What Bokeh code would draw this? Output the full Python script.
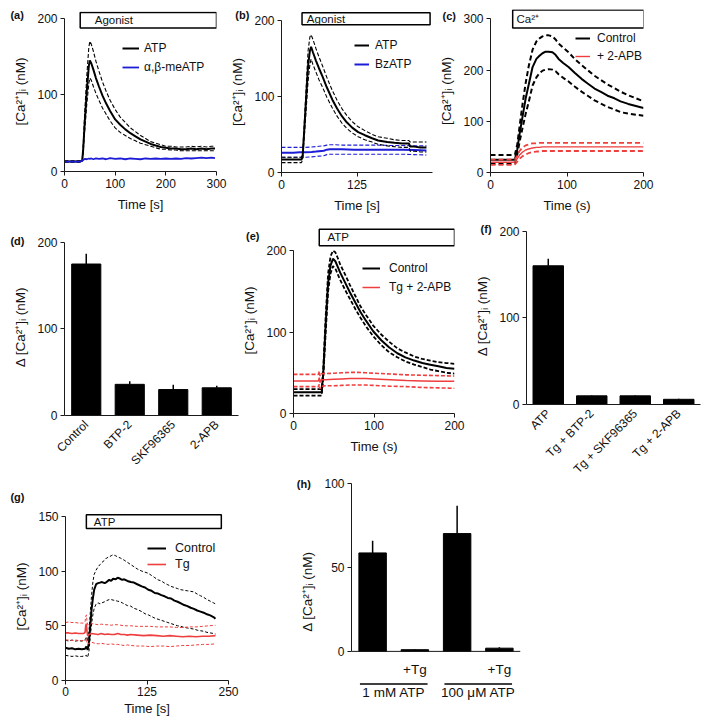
import math
from bokeh.plotting import figure
from bokeh.models import (Range1d, FactorRange, FixedTicker, Label, Legend, LegendItem,
                          BoxAnnotation, Span, Column)
from bokeh.embed import file_html
from bokeh.resources import INLINE
from bokeh.core.properties import value

FONT = "Liberation Sans"
AX = "#1a1a1a"
BLACK = "#000000"
BLUE = "#1d1dd8"
RED = "#ef3e3e"

# ---------------- DATA ----------------
# (a) ATP vs alpha,beta-meATP
t_a = [0, 10, 20, 30, 35, 37, 40, 44, 48, 50, 53, 57, 62, 68, 75, 82, 90, 100, 110, 120,
       130, 140, 150, 160, 170, 180, 190, 200, 210, 220, 230, 240, 250, 260, 270, 280, 290, 297]
atp_a = [13, 13, 13, 13, 14, 30, 65, 105, 138, 145, 141, 133, 122, 111, 99, 89, 79, 68, 61, 55,
         50, 46, 42, 39, 36, 34, 32, 31, 30, 30, 29, 29, 30, 29, 30, 29, 30, 30]
atp_a_up = [14, 14, 14, 14, 15, 35, 78, 125, 162, 170, 166, 157, 144, 131, 117, 105, 93, 81, 71, 64,
            57, 52, 47, 43, 39, 37, 35, 33, 33, 32, 32, 32, 33, 32, 33, 32, 33, 33]
atp_a_lo = [12, 12, 12, 12, 13, 26, 54, 88, 115, 122, 119, 111, 102, 93, 83, 75, 66, 57, 51, 47,
            43, 40, 37, 35, 33, 31, 29, 29, 28, 28, 27, 27, 27, 27, 27, 27, 27, 27]
abme_a = [13, 13, 13, 13, 14, 15, 16.5, 16, 17, 16.5, 17, 16, 17, 16.5, 17, 16, 17.5, 16.5, 17, 16,
          17, 16.5, 16, 17, 16.5, 17, 16.5, 17, 16.5, 17, 16.5, 17.5, 17, 17.5, 18, 17.5, 18, 17.5]
xt_a = [0, 100, 200, 300]
yt_a = [0, 100, 200]

# (b) ATP vs BzATP
t_b = [0, 10, 20, 30, 33, 35, 38, 41, 44, 47, 49, 52, 57, 62, 68, 75, 84, 92, 100, 108,
       117, 127, 138, 150, 160, 175, 187, 200, 211, 213, 220, 230, 240]
atp_b = [17, 17, 17, 17, 17, 21, 60, 100, 140, 160, 165, 158, 147, 137, 126, 112, 96, 84, 74, 66,
         59, 53, 49, 45, 42, 40, 39, 38, 38, 34, 34, 33, 33]
atp_b_up = [20, 20, 20, 20, 20, 25, 70, 115, 160, 178, 181, 175, 163, 152, 140, 125, 108, 95, 84, 75,
            67, 60, 55, 50, 47, 45, 43, 42, 42, 40, 40, 40, 40]
atp_b_lo = [13, 13, 13, 13, 13, 17, 50, 85, 120, 142, 149, 142, 132, 122, 112, 99, 85, 74, 65, 58,
            52, 47, 43, 40, 37, 35, 34, 33, 33, 28, 28, 27, 27]
t_bz = [0, 10, 20, 30, 40, 50, 57, 62, 70, 75, 80, 90, 100, 120, 140, 160, 180, 200, 220, 240]
bz_b = [26, 26, 26, 26.5, 26.5, 27, 27.5, 28, 28.5, 30, 30.5, 30.5, 30.5, 30, 30, 30, 30, 30, 29.5, 29]
bz_b_up = [33, 33, 33, 33, 33, 33.5, 34, 34.5, 35, 36, 36.5, 36.5, 36, 36, 36, 36, 35.5, 35.5, 35, 35]
bz_b_lo = [20, 20, 20, 20, 20, 20.5, 21, 21.5, 22, 23.5, 24, 24, 24, 24, 24, 24, 24, 24, 23.5, 23]
xt_b = [0, 125, 250]
yt_b = [0, 100, 200]

# (c) Ca2+ re-addition, control vs 2-APB
t_c = [0, 10, 20, 30, 32, 35, 38, 42, 46, 50, 55, 60, 64, 68, 72, 76, 81, 85, 89, 95,
       102, 110, 119, 127, 136, 145, 153, 162, 170, 180, 190, 200]
ctrl_c = [25, 25, 25, 25, 26, 45, 75, 110, 145, 172, 206, 222, 228, 233, 236, 236, 235, 230, 222, 214,
          206, 195, 183, 174, 164, 157, 150, 145, 139, 134, 130, 126]
ctrl_c_up = [34, 34, 34, 34, 35, 55, 90, 135, 175, 208, 240, 256, 262, 266, 268, 268, 266, 260, 252, 244,
             235, 222, 210, 200, 189, 180, 172, 165, 158, 151, 145, 139]
ctrl_c_lo = [17, 17, 17, 17, 18, 35, 60, 88, 115, 138, 170, 186, 194, 199, 201, 202, 201, 198, 192, 185,
             178, 168, 158, 150, 141, 134, 128, 123, 118, 115, 113, 111]
apb_c = [20, 20, 20, 20, 21, 27, 34, 40, 44, 46, 48, 49, 49, 50, 50, 50, 50, 50, 50, 50,
         50, 50, 50, 50, 50, 50, 50, 50, 50, 50, 50, 50]
apb_c_up = [25, 25, 25, 25, 26, 33, 42, 49, 53, 55, 57, 57, 58, 58, 58, 58, 58, 58, 58, 58,
            58, 58, 58, 58, 58, 58, 58, 58, 58, 58, 58, 58]
apb_c_lo = [15, 15, 15, 15, 16, 21, 27, 32, 35, 38, 40, 41, 41, 42, 42, 42, 42, 42, 42, 42,
            42, 42, 42, 42, 42, 42, 42, 42, 42, 42, 42, 42]
xt_c = [0, 100, 200]
yt_c = [0, 100, 200, 300]

# (d) bars
cats_d = ["Control", "BTP-2", "SKF96365", "2-APB"]
vals_d = [175, 36, 30, 32]
err_d = [12, 3.5, 5.5, 2.5]
yt_d = [0, 100, 200]

# (e) ATP, control vs Tg + 2-APB
t_e = [0, 10, 20, 30, 35, 37, 40, 43, 46, 49, 52, 55, 58, 64, 70, 77, 83, 90, 99, 109,
       119, 129, 139, 150, 160, 170, 180, 190, 200]
ctrl_e = [26, 26, 26, 26, 26, 50, 110, 160, 182, 190, 187, 180, 173, 161, 149, 136, 125, 114, 101, 90,
          81, 74, 69, 65, 62, 60, 58, 56, 55]
ctrl_e_up = [30, 30, 30, 30, 30, 55, 120, 172, 193, 200, 198, 191, 183, 171, 158, 144, 132, 121, 108, 97,
             88, 80, 75, 70, 67, 65, 63, 62, 61]
ctrl_e_lo = [22, 22, 22, 22, 22, 45, 100, 150, 172, 181, 178, 171, 164, 152, 141, 128, 118, 107, 95, 84,
             75, 69, 64, 60, 57, 54, 52, 50, 49]
t_e2 = [0, 10, 20, 30, 31, 32, 33, 34, 35, 40, 50, 60, 70, 80, 90, 100, 120, 140, 160, 180, 200]
tg_e = [40, 40, 40, 40, 40, 44, 38, 41, 41.5, 41.5, 42, 42.5, 43, 43, 43, 42.5, 41.5, 40.5, 40, 39.5, 39.5]
tg_e_up = [48, 48, 48, 48, 48, 52, 46, 49, 49, 49, 49.5, 50, 50.5, 50.5, 50, 49.5, 48.5, 47.5, 47, 46.5, 46]
tg_e_lo = [33, 33, 33, 33, 33, 36, 30, 33, 33.5, 34, 34, 34.5, 35, 35, 35, 34.5, 33.5, 33, 32, 31.5, 31]
xt_e = [0, 100, 200]
yt_e = [0, 100, 200]

# (f) bars
cats_f = ["ATP", "Tg + BTP-2", "Tg + SKF96365", "Tg + 2-APB"]
vals_f = [160, 10, 10, 6]
err_f = [8, 0.8, 0.8, 0.5]
yt_f = [0, 100, 200]

# (g) ATP, control vs Tg
t_g = [0, 5, 10, 15, 20, 25, 30, 32, 34, 36, 38, 40, 42, 44, 47, 50, 53, 56, 60, 63,
       67, 70, 73, 77, 80, 84, 87, 90, 95, 100, 105, 110, 117, 122, 127, 132, 137, 142, 147, 152,
       157, 162, 167, 172, 177, 182, 187, 192, 197, 202, 207, 212, 217, 222, 227, 230]
ctrl_g = [30, 29, 29.5, 28.5, 29, 28.5, 29, 31, 28, 35, 50, 65, 75, 83, 88, 89, 89.5, 90, 89, 90,
          92, 91, 93, 92.5, 94, 93, 92, 92.5, 91, 90, 89.5, 88, 86, 85, 83, 82, 80, 79.5, 78, 77,
          75.5, 75, 73, 72, 70.5, 69, 68, 66.5, 65.5, 64, 63, 62, 60.5, 59.5, 58, 56.5]
ctrl_g_up = [37, 36, 37, 36, 36.5, 36, 37, 40, 36, 45, 62, 78, 90, 97, 101, 104, 106, 108, 110, 112,
             113, 114, 115, 114, 113, 112, 111, 110, 108, 106, 104, 102, 100, 99, 98, 96, 94, 92, 91, 89,
             87.5, 86, 85, 84, 83, 82.5, 82, 81.5, 81, 79, 77.5, 76, 74, 72.5, 71, 70]
ctrl_g_lo = [23, 22.5, 22, 22.5, 22, 22, 22.5, 23, 21, 27, 40, 52, 60, 66, 70, 71, 70, 71, 72, 73,
             74, 74, 73.5, 73, 72.5, 72, 71, 70, 68.5, 68, 66, 65, 63, 61, 60, 58.5, 57, 56, 55, 54,
             53, 52, 51, 50, 49.5, 48.5, 48, 47.5, 47, 46, 45.5, 45, 44, 43.5, 43, 42.5]
t_g2 = [0, 5, 10, 15, 20, 25, 28, 30, 31, 32, 33, 34, 36, 40, 45, 50, 55, 60, 65, 70,
        75, 80, 85, 90, 95, 100, 110, 120, 130, 140, 150, 160, 170, 180, 190, 200, 210, 220, 230]
tg_g = [43.5, 43.5, 43, 43.5, 43, 43, 43, 44, 50, 52, 45, 41, 42, 43, 42.5, 42, 43, 42, 42.5, 42,
        42, 43, 42, 42, 41.5, 42, 41.5, 41, 41.5, 41, 40.5, 41, 40.5, 40, 40.5, 40, 40.5, 40.5, 41]
tg_g_up = [53, 53.5, 53, 53, 52.5, 52.5, 52.5, 54, 58, 60, 54, 51, 51, 52, 51.5, 51, 51.5, 51, 51, 50.5,
           51, 51, 50.5, 50, 50, 50, 49.5, 49.5, 49.5, 49, 49, 49, 48.5, 48.5, 49, 49, 49.5, 50, 50.5]
tg_g_lo = [37, 37, 36.5, 37, 36.5, 36.5, 36.5, 36, 38, 39, 34, 33, 34, 35, 34, 33.5, 34, 33.5, 33, 33.5,
           33, 33, 32.5, 32, 32.5, 32, 31.5, 31.5, 31, 31.5, 31.5, 31, 31.5, 32, 32, 32.5, 33, 33, 33.5]
xt_g = [0, 125, 250]
yt_g = [0, 50, 100, 150]

# (h) bars
cats_h = ["1 mM ATP", "1 mM ATP +Tg", "100 μM ATP", "100 μM ATP +Tg"]
sub_h = ["", "+Tg", "", "+Tg"]
groups_h = ["1 mM ATP", "100 μM ATP"]
vals_h = [58.5, 1.0, 70, 1.9]
err_h = [7.2, 0.3, 16.5, 0.6]
yt_h = [0, 50, 100]

# application windows (s)
win_a = (31, 300)
win_b = (34, 246)
win_c = (29, 200.5)
win_e = (32, 200)
win_g = (32, 239)

panel_letters = ["(a)", "(b)", "(c)", "(d)", "(e)", "(f)", "(g)", "(h)"]

CA_LABEL = "[Ca²⁺]ᵢ (nM)"
DCA_LABEL = "Δ [Ca²⁺]ᵢ (nM)"

# ---------------- LAYOUT HELPERS ----------------
W, H = 693, 710
S = 0.977
LEG_DX, LEG_DY = -1, -6   # calibration of legend placement


def px(v):
    return int(round(v * S))


def lin(d0, r0, d1, r1):
    k = (d1 - d0) / (r1 - r0)
    return lambda r: d0 + (r - r0) * k


ABS = {"position": "absolute", "left": "8px", "top": "8px"}


class Panel:
    def __init__(self, frame, ymap, xmap=None, factors=None, fs_tick=12, fs_label=13, fs_ylabel=13.5):
        fx0, fy0, fx1, fy1 = frame
        self.frame = frame
        if factors is not None:
            n = len(factors)
            self.fx = lin(0, fx0, n, fx1)
            xr = FactorRange(factors=factors, range_padding=0)
        else:
            self.fx = lin(*xmap)
            xr = Range1d(self.fx(fx0), self.fx(fx1))
        self.fy = lin(*ymap)
        yr = Range1d(self.fy(fy1), self.fy(fy0))
        p = figure(width=W, height=H, x_range=xr, y_range=yr,
                   min_border_left=px(fx0), min_border_right=W - px(fx1),
                   min_border_top=px(fy0), min_border_bottom=H - px(fy1),
                   output_backend="svg", toolbar_location=None, frame_align=False,
                   styles=ABS)
        p.border_fill_color = None
        p.background_fill_color = None
        p.outline_line_color = None
        p.grid.visible = False
        for ax in p.axis:
            ax.axis_line_color = AX
            ax.axis_line_width = 1
            ax.major_tick_line_color = AX
            ax.major_tick_out = 4
            ax.major_tick_in = 0
            ax.minor_tick_line_color = None
            ax.major_label_text_font = FONT
            ax.major_label_text_font_size = f"{fs_tick}px"
            ax.major_label_text_color = "#111111"
            ax.axis_label_text_font = FONT
            ax.axis_label_text_font_size = f"{fs_label}px"
            ax.axis_label_text_font_style = "normal"
            ax.axis_label_text_color = "#111111"
            ax.major_label_standoff = 3
            ax.axis_label_standoff = 6
        p.yaxis.axis_label_text_font_size = f"{fs_ylabel}px"
        self.p = p

    def label(self, text, rx, ry, size=11, bold=False, align="left"):
        self.p.add_layout(Label(x=self.fx(rx), y=self.fy(ry), text=text, text_font=FONT,
                                text_font_size=f"{size}px",
                                text_font_style="bold" if bold else "normal",
                                text_baseline="middle", text_align=align, text_color="#111111"))

    def box(self, win, ry0, ry1, text, rtx, size=11):
        self.p.add_layout(BoxAnnotation(left=win[0], right=win[1], top=self.fy(ry0), bottom=self.fy(ry1),
                                        fill_color="white", fill_alpha=1, line_color=BLACK,
                                        line_width=1.5, line_alpha=1))
        self.label(text, rtx, (ry0 + ry1) / 2, size=size)

    def legend(self, items, rx, ry_first, pitch, glyph_w, standoff, size=12):
        gh = 12
        sp = px(pitch) - gh
        n = len(items)
        lh = n * gh + (n - 1) * sp
        fx0, fy0, fx1, fy1 = self.frame
        x = px(rx) - px(fx0) + LEG_DX
        top_from_top = px(ry_first) - gh / 2 - px(fy0)
        fh = px(fy1) - px(fy0)
        y = fh - top_from_top - lh + LEG_DY
        leg = Legend(items=[LegendItem(label=value(t), renderers=[r]) for t, r in items],
                     location=(x, y), orientation="vertical",
                     glyph_width=px(glyph_w), glyph_height=gh, label_height=gh,
                     label_standoff=px(standoff), spacing=sp, padding=0, margin=0,
                     border_line_color=None, background_fill_alpha=0,
                     label_text_font=FONT, label_text_font_size=f"{size}px",
                     label_text_color="#111111")
        self.p.add_layout(leg)


def trace(p, t, mean, up, lo, color, lw=2, dlw=1.1, dash="4 2"):
    p.line(t, up, line_color=color, line_width=dlw, line_dash=dash)
    p.line(t, lo, line_color=color, line_width=dlw, line_dash=dash)
    return p.line(t, mean, line_color=color, line_width=lw)


def bars(P, cats, vals, err, width):
    P.p.vbar(x=cats, top=vals, width=width, fill_color=BLACK, line_color=BLACK)
    P.p.segment(x0=cats, y0=vals, x1=cats, y1=[v + e for v, e in zip(vals, err)],
                line_color=BLACK, line_width=1.5)


figs = []

# ---------------- (a) ----------------
A = Panel((57, 3, 213, 167), ymap=(0, 167, 200, 10), xmap=(0, 57, 300, 213))
pa = A.p
pa.xaxis.ticker = FixedTicker(ticks=xt_a)
pa.yaxis.ticker = FixedTicker(ticks=yt_a)
pa.xaxis.bounds = (xt_a[0], xt_a[-1])
pa.yaxis.bounds = (yt_a[0], yt_a[-1])
pa.xaxis.axis_label = "Time [s]"
pa.yaxis.axis_label = CA_LABEL
r_atp_a = trace(pa, t_a, atp_a, atp_a_up, atp_a_lo, BLACK, lw=2, dlw=1.1, dash="4 2")
r_ab_a = pa.line(t_a, abme_a, line_color=BLUE, line_width=1.8)
A.box(win_a, 4, 20, "Agonist", 88, size=11.5)
A.legend([("ATP", r_atp_a), ("α,β-meATP", r_ab_a)], 118, 38, 17, 17, 5, size=12)
figs.append(pa)

# ---------------- (b) ----------------
B = Panel((279, 3, 434, 168), ymap=(0, 168, 200, 12), xmap=(0, 279, 250, 434))
pb = B.p
pb.xaxis.ticker = FixedTicker(ticks=xt_b)
pb.yaxis.ticker = FixedTicker(ticks=yt_b)
pb.xaxis.bounds = (xt_b[0], xt_b[-1])
pb.yaxis.bounds = (yt_b[0], yt_b[-1])
pb.xaxis.axis_label = "Time [s]"
pb.yaxis.axis_label = CA_LABEL
r_bz_b = trace(pb, t_bz, bz_b, bz_b_up, bz_b_lo, BLUE, lw=2, dlw=1.1, dash="4 2")
r_atp_b = trace(pb, t_b, atp_b, atp_b_up, atp_b_lo, BLACK, lw=2, dlw=1.1, dash="4 2")
B.box(win_b, 4.3, 16.7, "Agonist", 305, size=11.5)
B.legend([("ATP", r_atp_b), ("BzATP", r_bz_b)], 355, 35, 17, 15, 6, size=12)
figs.append(pb)

# ---------------- (c) ----------------
C = Panel((493.3, 1, 650, 168), ymap=(0, 168, 300, 10.7), xmap=(0, 493.3, 200, 650))
pc = C.p
pc.xaxis.ticker = FixedTicker(ticks=xt_c)
pc.yaxis.ticker = FixedTicker(ticks=yt_c)
pc.xaxis.bounds = (xt_c[0], xt_c[-1])
pc.yaxis.bounds = (yt_c[0], yt_c[-1])
pc.xaxis.axis_label = "Time (s)"
pc.yaxis.axis_label = CA_LABEL
r_ctrl_c = trace(pc, t_c, ctrl_c, ctrl_c_up, ctrl_c_lo, BLACK, lw=2, dlw=2, dash="5 3")
r_apb_c = trace(pc, t_c, apb_c, apb_c_up, apb_c_lo, RED, lw=1.4, dlw=1.8, dash="5 3")
C.box(win_c, 1.5, 20, "Ca²⁺", 520, size=11.5)
C.legend([("Control", r_ctrl_c), ("+ 2-APB", r_apb_c)], 581.7, 28, 16.5, 15.5, 7, size=12)
figs.append(pc)

# ---------------- (d) ----------------
D = Panel((57, 235, 235, 417), ymap=(0, 417, 200, 239), factors=cats_d)
pd_ = D.p
pd_.yaxis.ticker = FixedTicker(ticks=yt_d)
pd_.yaxis.bounds = (yt_d[0], yt_d[-1])
pd_.yaxis.axis_label = DCA_LABEL
pd_.xaxis.major_label_orientation = math.pi / 4
pd_.xaxis.major_tick_line_color = None
bars(D, cats_d, vals_d, err_d, 0.67)
figs.append(pd_)

# ---------------- (e) ----------------
E = Panel((292, 224, 456.7, 414.3), ymap=(0, 414.3, 200, 247.7), xmap=(0, 292, 200, 456.7))
pe = E.p
pe.xaxis.ticker = FixedTicker(ticks=xt_e)
pe.yaxis.ticker = FixedTicker(ticks=yt_e)
pe.xaxis.bounds = (xt_e[0], xt_e[-1])
pe.yaxis.bounds = (yt_e[0], yt_e[-1])
pe.xaxis.axis_label = "Time (s)"
pe.yaxis.axis_label = CA_LABEL
r_ctrl_e = trace(pe, t_e, ctrl_e, ctrl_e_up, ctrl_e_lo, BLACK, lw=2, dlw=1.8, dash="4 2")
r_tg_e = trace(pe, t_e2, tg_e, tg_e_up, tg_e_lo, RED, lw=1.5, dlw=1.6, dash="4 2")
E.box(win_e, 225.7, 242.7, "ATP", 326.7, size=11.5)
E.legend([("Control", r_ctrl_e), ("Tg + 2-APB", r_tg_e)], 363, 263.3, 17.4, 18.7, 9, size=12)
figs.append(pe)

# ---------------- (f) ----------------
F = Panel((530, 224, 708, 405.7), ymap=(0, 405.7, 200, 227.7), factors=cats_f)
pf = F.p
pf.yaxis.ticker = FixedTicker(ticks=yt_f)
pf.yaxis.bounds = (yt_f[0], yt_f[-1])
pf.yaxis.axis_label = DCA_LABEL
pf.xaxis.major_label_orientation = math.pi / 4
pf.xaxis.major_tick_line_color = None
bars(F, cats_f, vals_f, err_f, 0.7)
figs.append(pf)

# ---------------- (g) ----------------
G = Panel((58, 516, 224.7, 687.7), ymap=(0, 687.7, 150, 520), xmap=(0, 58, 250, 224.7))
pg = G.p
pg.xaxis.ticker = FixedTicker(ticks=xt_g)
pg.yaxis.ticker = FixedTicker(ticks=yt_g)
pg.xaxis.bounds = (xt_g[0], xt_g[-1])
pg.yaxis.bounds = (yt_g[0], yt_g[-1])
pg.xaxis.axis_label = "Time [s]"
pg.yaxis.axis_label = CA_LABEL
pg.xaxis.axis_label_standoff = 2
pg.xaxis.major_label_standoff = 2
r_ctrl_g = trace(pg, t_g, ctrl_g, ctrl_g_up, ctrl_g_lo, BLACK, lw=2, dlw=1, dash="3 2")
r_tg_g = trace(pg, t_g2, tg_g, tg_g_up, tg_g_lo, RED, lw=1.6, dlw=1, dash="3 2")
G.box(win_g, 518.3, 532.3, "ATP", 87, size=11.5)
G.legend([("Control", r_ctrl_g), ("Tg", r_tg_g)], 143, 549.3, 14.7, 19.7, 9.6, size=12.5)
figs.append(pg)

# ---------------- (h) ----------------
Hh = Panel((351, 481, 524, 712), ymap=(0, 657.7, 100, 485.7), factors=cats_h)
ph = Hh.p
ph.yaxis.ticker = FixedTicker(ticks=yt_h)
ph.yaxis.bounds = (yt_h[0], yt_h[-1])
ph.yaxis.axis_label = DCA_LABEL
ph.xaxis.visible = False
ph.add_layout(Span(location=0, dimension="width", line_color=AX, line_width=1))
bars(Hh, cats_h, vals_h, err_h, 0.65)
sub_x = [c for c, s in zip(cats_h, sub_h) if s]
sub_t = [s for s in sub_h if s]
ph.text(x=sub_x, y=[Hh.fy(676)] * len(sub_x), text=sub_t, text_font=value(FONT),
        text_font_size="13.5px", text_align="center", text_baseline="middle", text_color="#111111")
gx = [2 * i + 1.0 for i in range(len(groups_h))]
ph.text(x=gx, y=[Hh.fy(700)] * len(gx), text=groups_h, text_font=value(FONT),
        text_font_size="13.5px", text_align="center", text_baseline="middle", text_color="#111111")
ph.segment(x0=[g - 0.8 for g in gx], x1=[g + 0.8 for g in gx], y0=[Hh.fy(691)] * len(gx),
           y1=[Hh.fy(691)] * len(gx), line_color=BLACK, line_width=1.5)
figs.append(ph)

# ---------------- overlay for panel letters (page-wide, reference pixel coordinates) ----------------
Z = figure(width=W, height=H, x_range=Range1d(0, 709), y_range=Range1d(726, 0), title=None,
           min_border_left=0, min_border_right=0, min_border_top=0, min_border_bottom=0,
           x_axis_location=None, y_axis_location=None, output_backend="svg",
           toolbar_location=None, frame_align=False, styles=ABS)
Z.border_fill_color = None
Z.background_fill_color = None
Z.outline_line_color = None
Z.grid.visible = False
letter_pos = [(2, 7), (232, 7), (444, 8), (2, 238), (243, 233), (483, 225), (2, 500), (295, 486)]
for txt, (lx, ly) in zip(panel_letters, letter_pos):
    Z.add_layout(Label(x=lx, y=ly, text=txt, text_font=FONT, text_font_size="11px",
                       text_font_style="bold", text_baseline="middle", text_align="left",
                       text_color="#111111"))
figs.append(Z)

layout = Column(children=figs, width=W, height=H,
                styles={"position": "relative", "width": f"{W}px", "height": f"{H}px"})

html = file_html(layout, INLINE, title="Ca2+ responses")
open("out.html", "w").write(html)
